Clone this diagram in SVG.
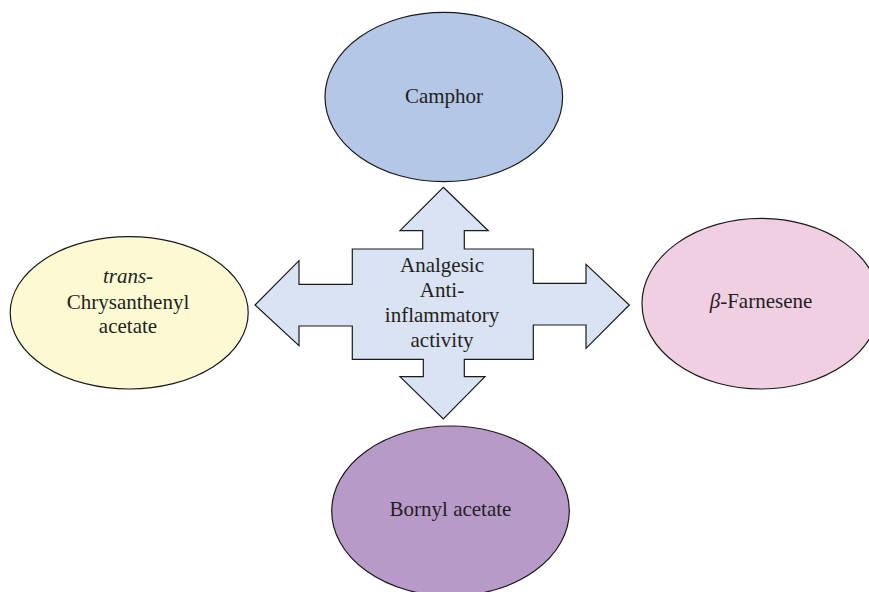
<svg xmlns="http://www.w3.org/2000/svg" width="869" height="592" viewBox="0 0 869 592">
<style>
.n{stroke:#1a1a1a;stroke-width:1.2}
.t{font-family:"Liberation Serif","Times New Roman",serif;font-size:21px;fill:#231f20;text-anchor:middle}
.i{font-style:italic}
</style>
<rect width="869" height="592" fill="#ffffff"/>
<g id="connectors">
<path class="n" fill="#dae3f3" d="M443.3,187.3 L488.3,230.7 L464.3,230.7 L464.3,249 L533.3,249 L533.3,283.3 L586,283.3 L586,264.3 L629.3,305 L586,348.3 L586,325 L533.3,325 L533.3,359.3 L464.3,359.3 L464.3,376.7 L485,376.7 L443.3,419 L400,376.7 L423.3,376.7 L423.3,359.3 L352.3,359.3 L352.3,326 L299,326 L299,345.7 L255,305 L299,260.7 L299,284.3 L352.3,284.3 L352.3,249 L422.7,249 L422.7,230.7 L400,230.7 Z"/>
</g>
<g id="center">
<text class="t" x="442" y="271.5">Analgesic</text>
<text class="t" x="442" y="296.5">Anti-</text>
<text class="t" x="442" y="321.5">inflammatory</text>
<text class="t" x="442" y="346.5">activity</text>
</g>
<g id="camphor">
<ellipse class="n" fill="#b4c7e7" cx="443.8" cy="97" rx="118.8" ry="84.7"/>
<text class="t" x="444" y="102.5">Camphor</text>
</g>
<g id="trans-chrysanthenyl-acetate">
<ellipse class="n" fill="#fcf9d3" cx="129.2" cy="312.8" rx="119" ry="76.2"/>
<text class="t i" x="128" y="283.3">trans-</text>
<text class="t" x="128" y="309">Chrysanthenyl</text>
<text class="t" x="128" y="333.3">acetate</text>
</g>
<g id="beta-farnesene">
<ellipse class="n" fill="#f0cfe3" cx="761" cy="303.7" rx="119" ry="85.3"/>
<text class="t" x="761" y="308.3"><tspan class="i">β</tspan>-Farnesene</text>
</g>
<g id="bornyl-acetate">
<ellipse class="n" fill="#b89ac8" cx="450.5" cy="511" rx="118.8" ry="85"/>
<text class="t" x="450.5" y="516">Bornyl acetate</text>
</g>
</svg>
